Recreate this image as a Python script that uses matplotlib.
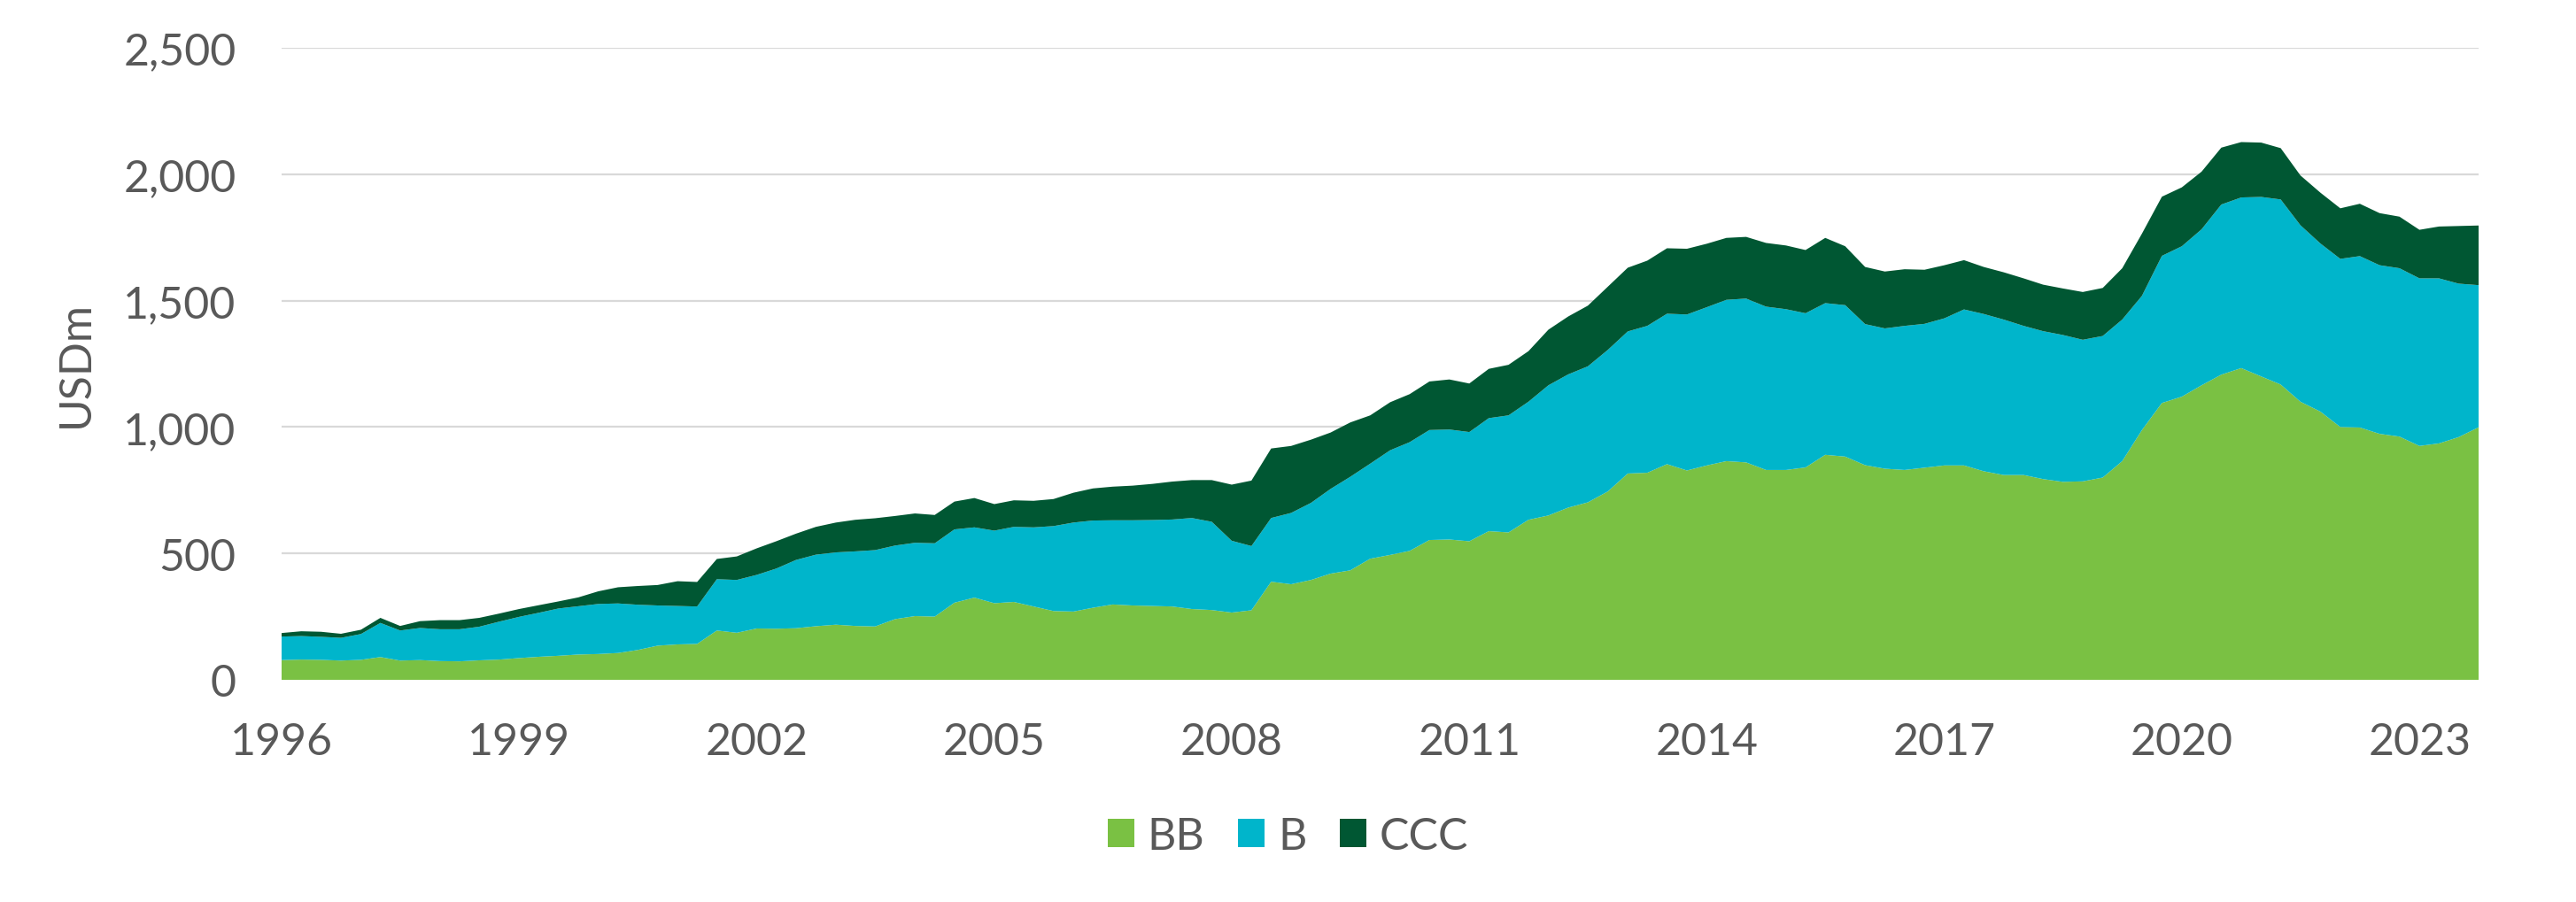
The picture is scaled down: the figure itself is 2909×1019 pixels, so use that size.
import matplotlib.pyplot as plt
import matplotlib.dates as mdates
from matplotlib.ticker import FuncFormatter
import pandas as pd

# quarterly readings, 1996 Q1 .. 2023 Q4 (USDm)
bb = [78, 80, 79, 76, 79, 90, 76, 78, 74, 73, 77, 80,
      86, 91, 95, 100, 102, 106, 118, 135, 140, 142, 195, 186,
      203, 202, 204, 212, 218, 213, 211, 240, 252, 250, 305, 325,
      303, 308, 290, 272, 270, 285, 298, 294, 292, 290, 280, 276,
      266, 275, 388, 378, 395, 420, 433, 479, 494, 510, 553, 555,
      548, 588, 583, 633, 650, 681, 702, 745, 816, 819, 853, 828,
      848, 865, 860, 830, 830, 840, 890, 883, 849, 835, 830, 839,
      848, 848, 825, 810, 810, 794, 783, 785, 800, 865, 988, 1095,
      1120, 1165, 1207, 1233, 1200, 1168, 1100, 1061, 1000, 998, 973, 962,
      925, 935, 960, 999]
b = [93, 93, 91, 90, 102, 135, 119, 127, 126, 127, 133, 150,
     163, 174, 187, 191, 198, 196, 179, 159, 152, 148, 203, 209,
     212, 238, 270, 283, 286, 295, 302, 291, 290, 290, 290, 278,
     287, 297, 313, 336, 352, 345, 333, 337, 340, 344, 360, 349,
     284, 254, 252, 282, 305, 335, 370, 376, 414, 430, 435, 435,
     432, 447, 463, 467, 515, 527, 538, 560, 562, 581, 595, 617,
     626, 638, 648, 646, 636, 610, 600, 599, 558, 555, 570, 569,
     582, 617, 622, 615, 590, 585, 581, 560, 560, 560, 531, 582,
     595, 617, 673, 675, 710, 732, 698, 665, 665, 678, 667, 666,
     663, 653, 607, 562]
ccc = [14, 19, 20, 16, 17, 20, 18, 27, 36, 36, 35, 32,
       31, 30, 28, 35, 50, 64, 74, 81, 98, 97, 80, 93,
       105, 108, 104, 110, 118, 125, 126, 117, 116, 112, 110, 116,
       105, 105, 105, 107, 118, 127, 133, 137, 143, 150, 150, 165,
       222, 259, 275, 265, 250, 223, 215, 191, 190, 190, 192, 198,
       192, 195, 200, 200, 220, 229, 240, 250, 252, 258, 259, 260,
       251, 245, 244, 252, 252, 250, 258, 233, 226, 225, 224, 214,
       210, 195, 186, 187, 188, 184, 184, 189, 190, 203, 246, 234,
       233, 228, 225, 219, 215, 203, 197, 201, 200, 207, 206, 204,
       192, 205, 228, 236]
tick_years = ["1996", "1999", "2002", "2005", "2008", "2011", "2014", "2017", "2020", "2023"]

dates = pd.date_range("1996-01-01", periods=len(bb), freq="QS")
labels = ["BB", "B", "CCC"]
colors = ["#7AC143", "#00B5CB", "#005733"]
text_col = "#595959"

plt.rcParams["font.family"] = ["Lato", "DejaVu Sans"]

fig = plt.figure(figsize=(29.09, 10.20), dpi=100)
ax = fig.add_axes([0.1093, 0.2461, 0.8529, 0.7000])

ax.stackplot(dates, bb, b, ccc, labels=labels, colors=colors, linewidth=0)

ax.set_ylim(0, 2500)
ax.set_yticks(range(0, 2501, 500))
ax.yaxis.set_major_formatter(FuncFormatter(lambda v, p: f"{v:,.0f}"))
ax.set_xlim(dates[0], dates[-1])
ax.set_xticks(pd.to_datetime([y + "-01-01" for y in tick_years]))
ax.xaxis.set_major_formatter(mdates.DateFormatter("%Y"))

ax.grid(axis="y", color="#D9D9D9", linewidth=1.6)
ax.set_axisbelow(True)
for s in ax.spines.values():
    s.set_visible(False)
ax.tick_params(axis="both", length=0, labelsize=36, colors=text_col)
ax.tick_params(axis="y", pad=37)
ax.tick_params(axis="x", pad=34)
ax.set_ylabel("USDm", fontsize=36, color=text_col, labelpad=22)

fig.legend(loc="center", bbox_to_anchor=(0.5, 0.073), ncol=3, frameon=False,
           fontsize=36, labelcolor=text_col, handlelength=0.6, handleheight=0.6,
           handletextpad=0.3, columnspacing=0.75)

fig.savefig("out.png", dpi=100)
